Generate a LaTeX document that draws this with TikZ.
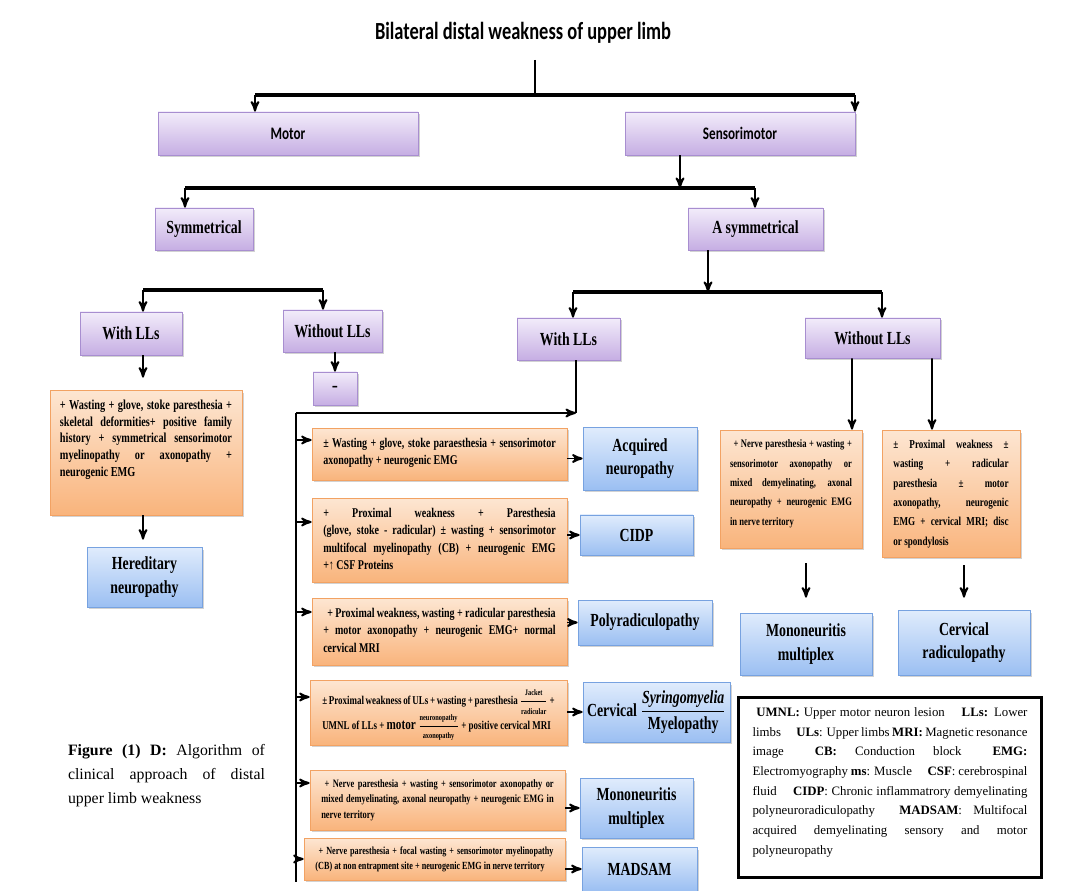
\documentclass[tikz,border=0pt]{standalone}
\usepackage{fontspec}
\usepackage{graphicx}
\setmainfont{Liberation Serif}
\newfontfamily\calib{Carlito}
\usetikzlibrary{arrows,shadows}

\definecolor{lilactop}{HTML}{F2ECFA}
\definecolor{lilacbot}{HTML}{C6AEE3}
\definecolor{lilacline}{HTML}{A88ED0}
\definecolor{peachtop}{HTML}{FDE6D2}
\definecolor{peachbot}{HTML}{F9B47C}
\definecolor{peachline}{HTML}{F2A263}
\definecolor{skytop}{HTML}{E0ECFC}
\definecolor{skybot}{HTML}{9BBFF2}
\definecolor{skyline}{HTML}{77A2E0}

\newcommand{\nar}[1]{\scalebox{0.75}[1]{#1}}
\newcommand{\lbl}{\fontsize{10.5}{13.5}\selectfont\bfseries}
\newcommand{\ofont}[2]{\fontsize{#1}{#2}\selectfont\bfseries}
\newcommand{\otext}[3]{\nar{\parbox[c][#2][t]{#1}{#3}}}
\newcommand{\sfr}[2]{$\displaystyle\frac{\mbox{\fontsize{4.8}{5}\selectfont #1}}{\mbox{\fontsize{4.8}{5}\selectfont #2}}$}

\begin{document}
\begin{tikzpicture}[x=0.02cm,y=-0.02cm,>=stealth',
  boxshadow/.style={drop shadow={shadow xshift=0.04cm,shadow yshift=-0.05cm,opacity=0.35}},
  purplebox/.style={draw=lilacline,top color=lilactop,bottom color=lilacbot,boxshadow,inner sep=1pt,font=\lbl},
  orangebox/.style={draw=peachline,top color=peachtop,bottom color=peachbot,boxshadow,inner sep=0pt},
  bluebox/.style={draw=skyline,top color=skytop,bottom color=skybot,boxshadow,inner sep=1pt,align=center,font=\lbl},
  bar/.style={line width=2.8pt},
  stem/.style={line width=1.4pt}]
\useasboundingbox (0,0) rectangle (1080,891);
\fill[white] (0,0) rectangle (1080,891);

% levels 0 to 2
\node (title) at (523,33) {\nar{\calib\bfseries\fontsize{14}{16}\selectfont Bilateral distal weakness of upper limb}};
\node[purplebox,minimum width=5.2cm,minimum height=0.86cm] (Motor) at (288,133.5) {\nar{\calib\fontsize{10}{12}\selectfont Motor}};
\node[purplebox,minimum width=4.6cm,minimum height=0.86cm] (Sens) at (740,133.5) {\nar{\calib\fontsize{10}{12}\selectfont Sensorimotor}};
\node[purplebox,minimum width=1.96cm,minimum height=0.84cm] (Sym) at (204,229) {\nar{Symmetrical}};
\node[purplebox,minimum width=2.7cm,minimum height=0.84cm] (Asym) at (755.5,229) {\nar{A symmetrical}};
\node[purplebox,minimum width=2.04cm,minimum height=0.86cm] (WithL) at (131,333.5) {\nar{With LLs}};
\node[purplebox,minimum width=1.98cm,minimum height=0.84cm] (WithoutL) at (332.5,331) {\nar{Without LLs}};
\node[purplebox,minimum width=0.88cm,minimum height=0.66cm] (Dash) at (335,388.5) {-};
\node[purplebox,minimum width=2.06cm,minimum height=0.84cm] (WithR) at (568.5,339) {\nar{With LLs}};
\node[purplebox,minimum width=2.7cm,minimum height=0.8cm] (WithoutR) at (872.5,338) {\nar{Without LLs}};

% findings
\node[orangebox,minimum width=3.84cm,minimum height=2.5cm,font=\ofont{7.8}{9.5}] (OL) at (146,452.5)
  {\otext{4.59cm}{2.1cm}{+ Wasting + glove, stoke paresthesia +\linebreak skeletal deformities+ positive family\linebreak history + symmetrical sensorimotor\linebreak myelinopathy or axonopathy +\linebreak neurogenic EMG}};
\node[orangebox,minimum width=5.1cm,minimum height=1.04cm,font=\ofont{7.6}{9.6}] (O1) at (439.5,454)
  {\otext{6.2cm}{0.64cm}{± Wasting + glove, stoke paraesthesia + sensorimotor\linebreak axonopathy + neurogenic EMG}};
\node[orangebox,minimum width=5.1cm,minimum height=1.68cm,font=\ofont{7.6}{9.9}] (O2) at (439.5,540)
  {\otext{6.2cm}{1.28cm}{+ Proximal weakness + Paresthesia\linebreak (glove, stoke - radicular) ± wasting + sensorimotor\linebreak multifocal myelinopathy (CB) + neurogenic EMG\linebreak +↑ CSF Proteins}};
\node[orangebox,minimum width=5.1cm,minimum height=1.34cm,font=\ofont{7.6}{9.9}] (O3) at (439.5,631.5)
  {\otext{6.2cm}{0.94cm}{\hspace*{0.4em}+ Proximal weakness, wasting + radicular paresthesia\linebreak + motor axonopathy + neurogenic EMG+ normal\linebreak cervical MRI}};
\node[orangebox,minimum width=5.14cm,minimum height=1.3cm,font=\ofont{6.8}{14}] (O4) at (438.5,712.5)
  {\otext{6.2cm}{0.9cm}{± Proximal weakness of ULs + wasting + paresthesia \sfr{Jacket}{radicular} +\linebreak UMNL of LLs + {\fontsize{8.5}{9}\selectfont motor} \sfr{neuronopathy}{axonopathy} + positive cervical MRI}};
\node[orangebox,minimum width=5.1cm,minimum height=1.2cm,font=\ofont{6.4}{8.6}] (O5) at (437.5,800)
  {\otext{6.2cm}{0.8cm}{\hspace*{0.4em}+ Nerve paresthesia + wasting + sensorimotor axonopathy or\linebreak mixed demyelinating, axonal neuropathy + neurogenic EMG in\linebreak nerve territory}};
\node[orangebox,minimum width=5.22cm,minimum height=0.84cm,font=\ofont{6.2}{8.6}] (O6) at (434.5,859)
  {\otext{6.35cm}{0.5cm}{\hspace*{0.4em}+ Nerve paresthesia + focal wasting + sensorimotor myelinopathy\linebreak (CB) at non entrapment site + neurogenic EMG in nerve territory}};
\node[orangebox,minimum width=2.84cm,minimum height=2.36cm,font=\ofont{6.5}{11}] (OA) at (791,489)
  {\otext{3.25cm}{1.96cm}{\hspace*{0.4em}+ Nerve paresthesia + wasting +\linebreak sensorimotor axonopathy or\linebreak mixed demyelinating, axonal\linebreak neuropathy + neurogenic EMG\linebreak in nerve territory}};
\node[orangebox,minimum width=2.76cm,minimum height=2.54cm,font=\ofont{6.9}{11}] (OB) at (951,493.5)
  {\otext{3.07cm}{2.14cm}{± Proximal weakness ±\linebreak wasting + radicular\linebreak paresthesia ± motor\linebreak axonopathy, neurogenic\linebreak EMG + cervical MRI; disc\linebreak or spondylosis}};

% diagnoses
\node[bluebox,minimum width=2.3cm,minimum height=1.2cm] (Hered) at (144.5,577) {\nar{Hereditary}\\\nar{neuropathy}};
\node[bluebox,minimum width=2.28cm,minimum height=1.26cm] (Acq) at (640,458.5) {\nar{Acquired}\\\nar{neuropathy}};
\node[bluebox,minimum width=2.26cm,minimum height=0.8cm] (CIDP) at (636.5,535) {\nar{CIDP}};
\node[bluebox,minimum width=2.68cm,minimum height=0.9cm] (Poly) at (645,622.5) {\nar{Polyradiculopathy}};
\node[bluebox,minimum width=2.94cm,minimum height=1.2cm] (Cerv) at (656.5,712) {\nar{Cervical $\displaystyle\frac{\mbox{\itshape Syringomyelia}}{\mbox{Myelopathy}}$}};
\node[bluebox,minimum width=2.26cm,minimum height=1.2cm] (MonoL) at (636.5,808) {\nar{Mononeuritis}\\\nar{multiplex}};
\node[bluebox,minimum width=2.3cm,minimum height=0.88cm] (MADSAM) at (639.5,869) {\nar{MADSAM}};
\node[bluebox,minimum width=2.64cm,minimum height=1.24cm] (MonoR) at (806,644) {\nar{Mononeuritis}\\\nar{multiplex}};
\node[bluebox,minimum width=2.64cm,minimum height=1.3cm] (CervR) at (964,642.5) {\nar{Cervical}\\\nar{radiculopathy}};

% key and caption
\node[draw,line width=1.7pt,minimum width=6.08cm,minimum height=3.62cm,inner sep=0pt] (legend) at (890,787.5)
  {\parbox[c][3.2cm][t]{5.5cm}{\fontsize{7.3}{11.2}\selectfont
  \hspace*{0.3em}\textbf{UMNL:} Upper motor neuron lesion \quad \textbf{LLs:} Lower\linebreak
  limbs \quad \textbf{ULs}: Upper limbs \textbf{MRI:} Magnetic resonance\linebreak
  image \quad \textbf{CB:} Conduction block \quad \textbf{EMG:}\linebreak
  Electromyography \textbf{ms}: Muscle \quad \textbf{CSF}: cerebrospinal\linebreak
  fluid \quad \textbf{CIDP}: Chronic inflammatrory demyelinating\linebreak
  polyneuroradiculopathy \quad \textbf{MADSAM}: Multifocal\linebreak
  acquired demyelinating sensory and motor\linebreak
  polyneuropathy}};
\node (caption) at (166.5,776) {\parbox{3.94cm}{\fontsize{9}{13.6}\selectfont
  \textbf{Figure (1) D:} Algorithm of\linebreak clinical approach of distal\linebreak upper limb weakness}};

% branch points
\coordinate (b1) at (535,95);   \coordinate (b1l) at (255,95);  \coordinate (b1r) at (855,95);
\coordinate (b2) at (680,188);  \coordinate (b2l) at (185,188); \coordinate (b2r) at (755,188);
\coordinate (b3l) at (143,290); \coordinate (b3r) at (323,290);
\coordinate (b4) at (708,292);  \coordinate (b4l) at (573,292); \coordinate (b4r) at (882,292);
\coordinate (jr) at (576,413);  \coordinate (jl) at (296,413);  \coordinate (jb) at (296,882);

\draw[stem,shorten <=0.2cm] (title.south -| b1) -- (b1);
\draw[bar] (b1l) -- (b1r);
\draw[bar] (b2l) -- (b2r);
\draw[bar] (b3l) -- (b3r);
\draw[bar] (b4l) -- (b4r);
\draw[stem] (WithR.south -| jr) -- (jr);
\draw[stem] (jl) -- (jb);

\tikzset{link/.style={->,line width=1.1pt}}
\path (b1l) edge [link] (b1l |- Motor.north)
      (b1r) edge [link] (b1r |- Sens.north)
      (Sens.south -| b2) edge [link] (b2)
      (b2l) edge [link] (b2l |- Sym.north)
      (b2r) edge [link] (b2r |- Asym.north)
      (b3l) edge [link] (b3l |- WithL.north)
      (b3r) edge [link] (b3r |- WithoutL.north)
      (Asym.south -| b4) edge [link] (b4)
      (b4l) edge [link] (b4l |- WithR.north)
      (b4r) edge [link] (b4r |- WithoutR.north)
      (Dash.north |- WithoutL.south) edge [link] (Dash.north)
      (jl) edge [link] (jr);
\path (WithL.south -| b3l) edge [link,shorten >=0.24cm] (b3l |- OL.north)
      (OL.south -| b3l) edge [link,shorten >=0.14cm] (b3l |- Hered.north)
      ([xshift=-0.41cm]WithoutR.south) edge [link] ([xshift=1.22cm]OA.north)
      ([xshift=1.19cm]WithoutR.south) edge [link] ([xshift=-0.38cm]OB.north)
      (MonoR.north |- OA.south) edge [link,shorten <=0.3cm,shorten >=0.3cm] (MonoR.north)
      (CervR.north |- OB.south) edge [link,shorten <=0.16cm,shorten >=0.24cm] (CervR.north);

% feeds from the left rail
\coordinate (l1) at ([yshift=0.28cm]O1.west);
\coordinate (l2) at ([yshift=0.36cm]O2.west);
\coordinate (l3) at ([yshift=0.39cm]O3.west);
\coordinate (l4) at ([yshift=0.31cm]O4.west);
\coordinate (l5) at ([yshift=0.34cm]O5.west);
\path (jl |- l1) edge [link] (l1)
      (jl |- l2) edge [link] (l2)
      (jl |- l3) edge [link] (l3)
      (jl |- l4) edge [link] (l4)
      (jl |- l5) edge [link] (l5)
      (jl |- O6.west) edge [link] (O6.west);
\path (O1.east |- Acq.west) edge [link] (Acq.west)
      (O2.east |- CIDP.west) edge [link] (CIDP.west)
      (O3.east |- Poly.west) edge [link] (Poly.west)
      (O4.east |- Cerv.west) edge [link] (Cerv.west)
      (O5.east |- MonoL.west) edge [link] (MonoL.west)
      (O6.east |- MADSAM.west) edge [link] (MADSAM.west);
\end{tikzpicture}
\end{document}
